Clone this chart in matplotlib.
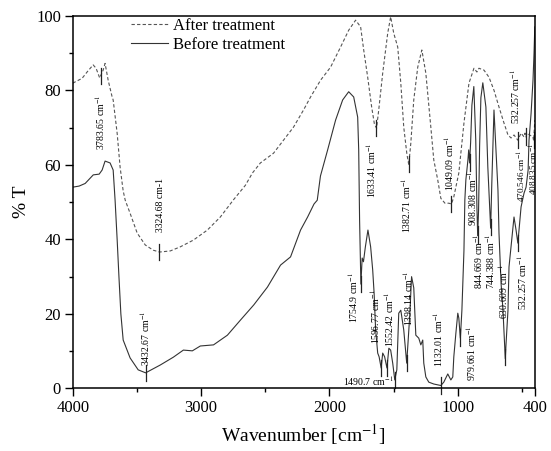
import numpy as np
import matplotlib
matplotlib.use('Agg')
import matplotlib.pyplot as plt

plt.rcParams['font.family'] = ['Liberation Serif', 'DejaVu Serif']
plt.rcParams['mathtext.fontset'] = 'stix'

# spectrum before treatment (wavenumber cm-1, %T)
wn_before = [4000, 3950, 3903, 3840, 3794, 3771, 3748, 3709, 3685, 3670, 3654, 3640,
             3625, 3607, 3553, 3490, 3432, 3318, 3216, 3138, 3068, 3006, 2903, 2795,
             2692, 2590, 2483, 2381, 2303, 2225, 2170, 2120, 2095, 2070, 2014, 1952,
             1897, 1850, 1811, 1780, 1772, 1765, 1760, 1755, 1745, 1735, 1720, 1700,
             1679, 1663, 1652, 1640, 1624, 1613, 1597, 1585, 1570, 1552, 1537, 1523,
             1507, 1491, 1475, 1460, 1444, 1421, 1398, 1375, 1360, 1343, 1327, 1304,
             1288, 1273, 1265, 1249, 1226, 1187, 1148, 1132, 1109, 1078, 1054, 1039,
             1031, 1015, 1000, 992, 980, 968, 952, 945, 937, 921, 915, 908, 900, 890,
             875, 860, 851, 845, 838, 830, 820, 805, 781, 766, 744, 735, 718, 687,
             679, 663, 648, 630, 624, 609, 601, 570, 562, 546, 532, 523, 507, 484,
             468, 452, 445, 429, 414, 406, 400]
t_before = [54, 54.3, 55, 57.3, 57.5, 58.6, 61, 60.5, 58.6, 50.5, 40, 30,
            20, 13, 8.2, 5, 4.2, 6.3, 8.4, 10.3, 10.1, 11.4, 11.7, 14.3,
            18.4, 22.4, 27.2, 33.1, 35.3, 42.5, 46, 49.5, 50.5, 57, 64, 72,
            77.4, 79.6, 78.2, 72.8, 64, 45, 37, 28, 35, 34, 38, 42.5,
            38, 31.8, 25.6, 15.7, 9.5, 8.5, 5.5, 9.5, 8.5, 5.5, 10.8, 10.3,
            6.8, 2.3, 5, 20.2, 21, 15.7, 6.8, 19.2, 30, 27, 14.3, 13.5,
            11.7, 13, 6.8, 3.1, 1.7, 1.2, 0.9, 0.8, 1.7, 3.9, 2.3, 3.1,
            8.5, 14.8, 20.2, 18.9, 13.5, 21, 37, 50.6, 56, 61.3, 64, 60.5, 66, 76,
            81, 66.6, 48.7, 41, 48, 65, 78, 82, 75.5, 59.4, 43, 55, 74.7, 53.2,
            41.7, 28.3, 21, 8, 12, 21, 32.6, 43.3, 46, 42.5, 39, 42.5, 48.7, 52.4,
            54, 58.6, 66.6, 73.8, 82.7, 90, 97]

# spectrum after treatment
wn_after = [4000, 3927, 3888, 3841, 3818, 3790, 3763, 3748, 3724, 3693, 3685, 3654,
            3631, 3607, 3591, 3553, 3498, 3435, 3373, 3324, 3240, 3162, 3060, 2951,
            2850, 2748, 2655, 2600, 2538, 2436, 2358, 2280, 2202, 2147, 2069, 1991,
            1913, 1850, 1796, 1757, 1733, 1702, 1671, 1650, 1633, 1616, 1585, 1546,
            1523, 1499, 1468, 1444, 1421, 1397, 1382, 1366, 1343, 1312, 1280, 1249,
            1210, 1187, 1156, 1132, 1100, 1070, 1049, 1031, 992, 952, 913, 874, 851,
            835, 796, 757, 718, 679, 640, 609, 585, 562, 532, 507, 484, 476, 470,
            460, 440, 415, 409, 400]
t_after = [81.9, 83.2, 84.9, 86.8, 85.9, 83.3, 85.4, 87.2, 82.7, 78.2, 77.4, 68.5,
           59.4, 53, 50.5, 47, 41.7, 38.5, 37.1, 36.6, 36.9, 38, 39.8, 42.5,
           46, 50.6, 54.5, 57.8, 60.5, 63.1, 66.6, 70.1, 74.7, 78.2, 82.7, 86.2,
           91.6, 96.1, 98.8, 97, 90.8, 83.5, 75.5, 71, 69.8, 74.7, 84.6, 95.3,
           99.7, 95.3, 91.6, 81.9, 70.1, 63, 60, 65.8, 77.4, 86.2, 90.8, 84.6,
           70.1, 61.3, 55.9, 51, 49.7, 49.7, 49.5, 51.4, 57.8, 71.2, 81.9, 85.9, 84.9,
           85.9, 85.4, 83.5, 80, 75.5, 71.2, 68, 67.2, 68, 66.6, 68.5, 67.5, 68.5, 67.5,
           68.5, 68, 67.5, 66.5, 72]

# peak labels: wavenumber, label text, text centre (wn, %T)
peaks_after = [3783.65, 3324.68, 1633.41, 1382.71, 1049.09, 532.257, 470.546, 408.835]
labels_after = ['3783.65 cm$^{-1}$', '3324.68 cm-1', '1633.41 cm$^{-1}$', '1382.71 cm$^{-1}$',
                '1049.09 cm$^{-1}$', '532.257 cm$^{-1}$', '470.546 cm$^{-1}$', '408.835 cm$^{-1}$']
pos_after = [(3783.65, 71.5), (3318, 49.2), (1675, 58.6), (1403, 49.2),
             (1068, 60.5), (555, 78.4), (498, 57), (408, 59)]

peaks_before = [3432.67, 1754.9, 1596.77, 1552.42, 1490.7, 1398.14, 1132.01,
                979.661, 908.308, 844.669, 744.388, 630.609, 532.257]
labels_before = ['3432.67 cm$^{-1}$', '1754.9 cm$^{-1}$', '1596.77 cm$^{-1}$', '1552.42 cm$^{-1}$',
                 '1490.7 cm$^{-1}$', '1398.14 cm$^{-1}$', '1132.01 cm$^{-1}$', '979.661 cm$^{-1}$',
                 '908.308 cm$^{-1}$', '844.669 cm$^{-1}$', '744.388 cm$^{-1}$', '630.609 cm$^{-1}$',
                 '532.257 cm$^{-1}$']
pos_before = [(3432.67, 13.5), (1811, 24.3), (1642, 19.2), (1532, 18.6), (1694, 1.9),
              (1390, 24.3), (1156, 13.3), (897, 9.5), (890, 51), (841, 34.2),
              (745, 34.2), (648, 26.1), (500, 28.3)]

fig = plt.figure(figsize=(5.51, 4.51), dpi=100)
ax = fig.add_axes([0.132, 0.1386, 0.8386, 0.8266])

ax.plot(wn_after, t_after, color='#555555', lw=0.8, ls=(0, (3, 2)), label='After treatment')
ax.plot(wn_before, t_before, color='#333333', lw=0.8, label='Before treatment')


def mark(peaks, labels, pos, wn, t):
    xs = np.array(wn[::-1], float)
    ys = np.array(t[::-1], float)
    for p, lab, (tx, ty) in zip(peaks, labels, pos):
        yv = np.interp(p, xs, ys)
        ax.plot([p, p], [yv - 2.2, yv + 2.2], color='#222222', lw=0.9, clip_on=False)
        rot = 0 if p == 1490.7 else 90
        fs = 6.6 if p < 500 else 7.0
        ax.text(tx, ty, lab, rotation=rot, ha='center', va='center', fontsize=fs)


mark(peaks_after, labels_after, pos_after, wn_after, t_after)
mark(peaks_before, labels_before, pos_before, wn_before, t_before)

ax.set_xlim(4000, 400)
ax.set_ylim(0, 100)
ax.set_xticks([4000, 3000, 2000, 1000, 400])
ax.set_xticks([3500, 2500, 1500, 500], minor=True)
ax.set_yticks([0, 20, 40, 60, 80, 100])
ax.set_yticks([10, 30, 50, 70, 90], minor=True)
ax.tick_params(which='major', direction='out', length=5.5, width=1, labelsize=12, pad=3)
ax.tick_params(which='minor', direction='out', length=3.2, width=1)
for s in ax.spines.values():
    s.set_linewidth(1.1)

ax.set_xlabel('Wavenumber [cm$^{-1}$]', fontsize=14)
ax.set_ylabel('% T', fontsize=14)

ax.legend(loc='upper left', bbox_to_anchor=(0.126, 0.995), frameon=False, fontsize=12,
          handlelength=2.2, handletextpad=0.3, labelspacing=0.2, borderpad=0, borderaxespad=0)

fig.savefig('out.png', dpi=100)
